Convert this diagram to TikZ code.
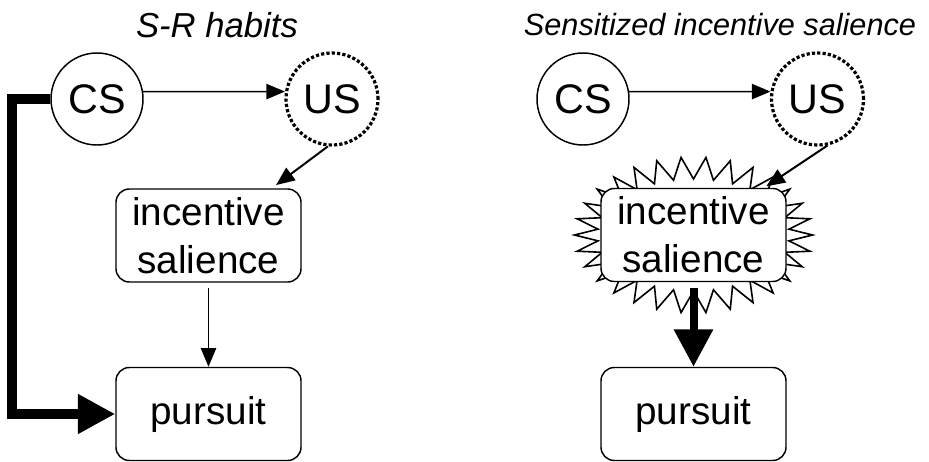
\documentclass[tikz,border=0pt]{standalone}
\usepackage{fontspec}
\setmainfont{Liberation Sans}
\usetikzlibrary{arrows.meta,calc}
\tikzset{
	stim/.style={draw, circle, line width=1.1pt, minimum size=69pt, inner sep=0pt,
		font=\fontsize{31}{31}\selectfont},
	absent/.style={stim, line width=2.4pt, dash pattern=on 2.4pt off 1.6pt},
	stage/.style={draw, rounded corners=10pt, line width=1.1pt, fill=white,
		minimum width=138.75pt, minimum height=69.75pt, inner sep=0pt,
		align=center, font=\fontsize{29}{36}\selectfont},
	link/.style={line width=1.1pt, -{Triangle[length=14pt,width=11.5pt]}},
	habit/.style={line width=7.5pt, line join=miter, -{Triangle[length=28pt,width=28pt]}},
	boost/.style={line width=6pt, -{Triangle[length=28pt,width=28pt]}},
	burst/.style={line width=1.2pt, line join=miter, fill=white},
	heading/.style={font=\fontsize{#1}{#1}\selectfont\itshape}
}
\begin{document}
\begin{tikzpicture}[x=0.75pt,y=0.75pt,yscale=-1,xscale=1]
\useasboundingbox (0,0) rectangle (929,461);

% left: S-R habits
\node[heading=26] (title1) at (217,25) {S-R habits};
\node[stim] (cs1) at (97,99) {CS};
\node[absent] (us1) at (332,99) {US};
\node[stage] (ib1) at (208.5,235.5) {incentive\\salience};
\node[stage] (pu1) at (208.5,414) {pursuit};
\coordinate (rail) at (12,99);

\draw[link] (cs1.9) -- (us1.171);
\draw[link, line width=1.5pt, shorten >=4pt] (us1.265) -- (ib1);
\draw[link, shorten <=4pt] (ib1.south) -- (pu1.north);
\draw[habit] (cs1.west) -- (rail) |- (pu1.west);

% right: sensitized incentive salience
\node[heading=23] (title2) at (720,25) {Sensitized incentive salience};
\node[stim] (cs2) at (583,99) {CS};
\node[absent] (us2) at (817.5,99) {US};
\coordinate (glow) at (693.5,235);
\draw[burst] ($(glow)+(-6:96 and 56)$)
	\foreach \a in {0,12,...,348} { -- ($(glow)+(\a:119 and 78)$) -- ($(glow)+(\a+6:96 and 56)$) } -- cycle;
\node[stage] (ib2) at (glow) {incentive\\salience};
\node[stage] (pu2) at (693.5,414) {pursuit};

\draw[link] (cs2.9) -- (us2.171);
\draw[link, line width=1.5pt, shorten >=2pt] (us2.282) -- (ib2);
\draw[boost, shorten <=4pt] (ib2.south) -- (pu2.north);

\end{tikzpicture}
\end{document}
